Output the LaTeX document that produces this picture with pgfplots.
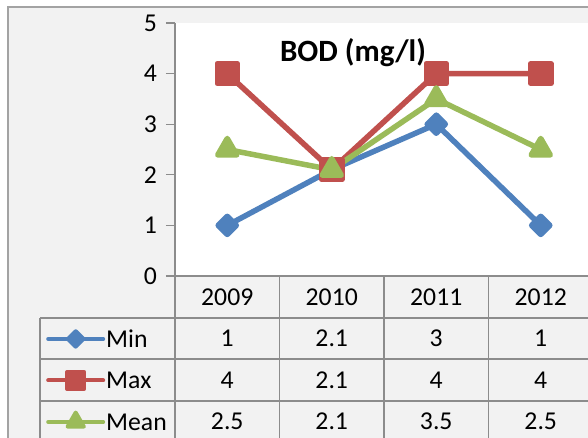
\documentclass[border=0pt]{standalone}
\usepackage{fontspec}
\setmainfont{Carlito}
\usepackage{pgfplots}
\usepackage{pgfplotstable}
\pgfplotsset{compat=1.18}
\definecolor{bodblue}{HTML}{4F81BD}
\definecolor{bodred}{HTML}{C0504D}
\definecolor{bodgreen}{HTML}{9BBB59}
\definecolor{bggray}{HTML}{F2F2F2}
\definecolor{linegray}{HTML}{8C8C8C}

% x = category index, values per year
\pgfplotstableread{
x year Min Max Mean
0 2009 1   4   2.5
1 2010 2.1 2.1 2.1
2 2011 3   4   3.5
3 2012 1   4   2.5
}\bodtable

\begin{document}
\begin{tikzpicture}[x=1pt,y=1pt]
\useasboundingbox (0,0) rectangle (588,438);
\clip (0,0) rectangle (588,438);
% chart frame
\fill[bggray] (8,-10) rectangle (600,431);
\draw[linegray!80, line width=1.3] (8,-10) -- (8,431) -- (600,431);

\begin{axis}[
    at={(175pt,162pt)}, anchor=south west,
    scale only axis, width=418pt, height=253pt,
    xmin=-0.5, xmax=3.5, ymin=0, ymax=5,
    axis lines=left,
    axis line style={-, draw=linegray, line width=1.3pt},
    axis background/.style={fill=white},
    xtick=\empty,
    ytick={0,1,2,3,4,5},
    tick align=outside,
    major tick length=9pt,
    ytick style={draw=linegray, line width=1.3pt},
    tick label style={font=\fontsize{25.7}{30}\selectfont},
    /pgf/number format/assume math mode=true,
    yticklabel style={anchor=east, inner sep=0pt, xshift=-9pt},
    clip=false,
    legend image code/.code={
        \draw[mark repeat=2, mark phase=2, #1, line width=4pt,
              every mark/.append style={scale=0.85}]
        plot coordinates {(0pt,0pt) (27.5pt,0pt) (55pt,0pt)};},
    legend style={
        at={(-0.30861,-0.16601)}, anchor=north west,
        draw=none, fill=none, inner sep=0pt, row sep=0pt,
        font=\fontsize{25.7}{30}\selectfont,
        nodes={inner sep=0pt, inner xsep=1pt, minimum height=41.5pt,
               text depth=0pt, anchor=west},
    },
    legend cell align=left,
    every axis plot/.append style={line width=5.5pt, line cap=round, line join=round},
]
\addplot[color=bodblue, mark=square*, mark size=6.4pt,
         mark options={rotate=45}] table[x=x, y=Min] {\bodtable};
\addplot[color=bodred, mark=square*, mark size=10pt] table[x=x, y=Max] {\bodtable};
\addplot[color=bodgreen, mark=triangle*, mark size=11pt] table[x=x, y=Mean] {\bodtable};
\legend{Min, Max, Mean}
\end{axis}

\node[font=\fontsize{31}{36}\selectfont\bfseries, anchor=base] at (353,376) {BOD (mg/l)};

% data table grid
\begin{scope}[linegray, line width=1.3]
\draw (40,120) -- (600,120);
\draw (40,79) -- (600,79);
\draw (40,37) -- (600,37);
\draw (40,-10) -- (40,120);
\draw (175,-10) -- (175,162);
\foreach \vx in {279.5,384,488.5} \draw (\vx,-10) -- (\vx,162);
\end{scope}

% data table text
\foreach \r in {0,...,3}{
  \pgfmathsetmacro\cx{227.25+104.5*\r}
  \pgfplotstablegetelem{\r}{year}\of\bodtable
  \node[font=\fontsize{25.7}{30}\selectfont] at (\cx,141) {\pgfplotsretval};
  \pgfplotstablegetelem{\r}{Min}\of\bodtable
  \node[font=\fontsize{25.7}{30}\selectfont] at (\cx,99.5) {\pgfplotsretval};
  \pgfplotstablegetelem{\r}{Max}\of\bodtable
  \node[font=\fontsize{25.7}{30}\selectfont] at (\cx,58) {\pgfplotsretval};
  \pgfplotstablegetelem{\r}{Mean}\of\bodtable
  \node[font=\fontsize{25.7}{30}\selectfont] at (\cx,16.5) {\pgfplotsretval};
}
\end{tikzpicture}
\end{document}
